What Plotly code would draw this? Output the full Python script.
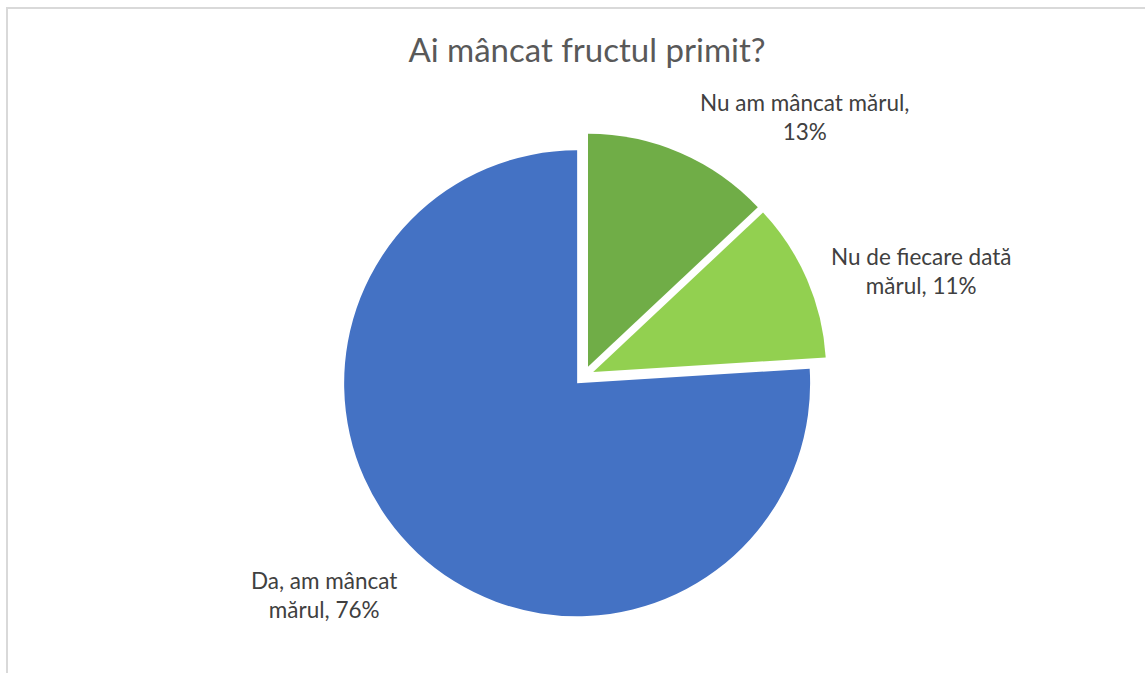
import plotly.graph_objects as go

# slices in drawing order, clockwise from 12 o'clock
labels = ["Nu am mâncat mărul", "Nu de fiecare dată mărul", "Da, am mâncat mărul"]
values = [13, 11, 76]
colors = ["#70AD47", "#92D050", "#4472C4"]
# label text as it is broken in the original
label_lines = [["Nu am mâncat mărul,", "{}%"],
               ["Nu de fiecare dată", "mărul, {}%"],
               ["Da, am mâncat", "mărul, {}%"]]

W, H = 1145, 673

fig = go.Figure()
fig.add_trace(
    go.Pie(
        labels=labels,
        values=values,
        sort=False,
        direction="clockwise",
        rotation=0,
        pull=[0.043, 0.043, 0.043],
        marker=dict(colors=colors, line=dict(color="white", width=0)),
        textinfo="none",
        hoverinfo="label+percent",
        showlegend=False,
        domain=dict(x=[341 / W, 827 / W], y=[54 / H, 540 / H]),
    )
)

# label placement (paper coords)
label_pos = [(804, 117), (921, 271), (324, 595)]
for lines, v, (px, py) in zip(label_lines, values, label_pos):
    txt = "<br>".join(l.format(v) for l in lines)
    fig.add_annotation(
        x=px / W, y=1 - py / H, xref="paper", yref="paper",
        xanchor="center", yanchor="middle",
        text=txt, showarrow=False, align="center",
        font=dict(family="Lato", size=22.5, color="#404040"),
    )

# chart frame
fig.add_shape(type="rect", xref="paper", yref="paper",
              x0=7 / W, x1=1.02, y0=-0.02, y1=1 - 8 / H,
              line=dict(color="#D9D9D9", width=2), layer="below")

fig.update_layout(
    width=W, height=H,
    margin=dict(l=0, r=0, t=0, b=0),
    paper_bgcolor="white",
    plot_bgcolor="white",
    title=dict(text="Ai mâncat fructul primit?", x=587 / W, xanchor="center",
               y=1 - 50 / H, yanchor="middle",
               font=dict(family="Lato", size=33, color="#595959")),
)

fig.write_html("out.html", config={"displayModeBar": False},
               post_script="document.body.style.margin='0px';")
